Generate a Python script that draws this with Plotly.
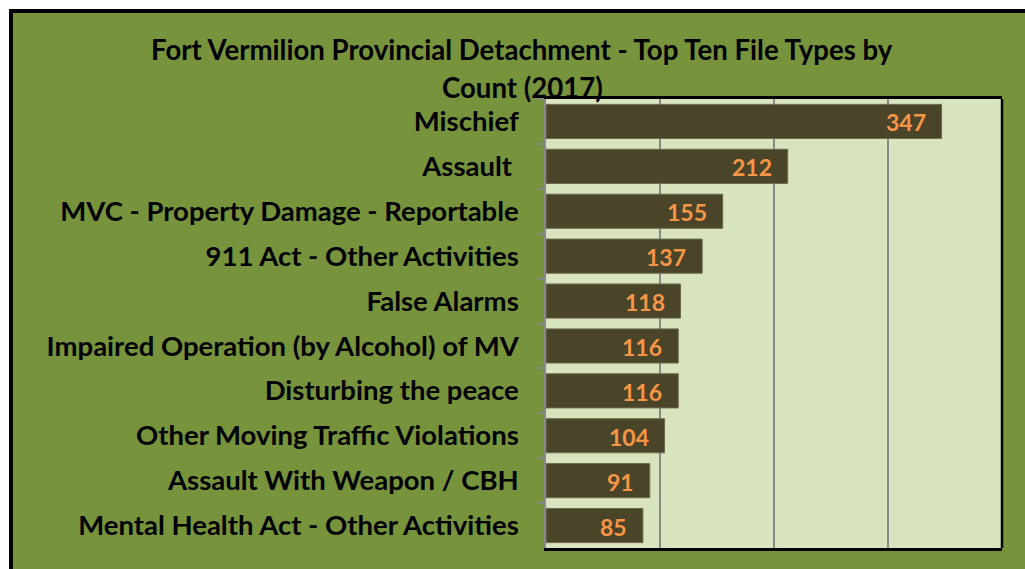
import plotly.graph_objects as go

categories = [
    "Mischief",
    "Assault\u00a0",
    "MVC - Property Damage - Reportable",
    "911 Act - Other Activities",
    "False Alarms",
    "Impaired Operation (by Alcohol) of MV",
    "Disturbing the peace",
    "Other Moving Traffic Violations",
    "Assault With Weapon / CBH",
    "Mental Health Act - Other Activities",
]
counts = [347, 212, 155, 137, 118, 116, 116, 104, 91, 85]
title_lines = ["Fort Vermilion Provincial Detachment - Top Ten File Types by", "Count (2017)"]

W, H = 1025, 569
L, R, T, B = 546, 1002, 99, 548
pw, ph = R - L, B - T

def px_x(x):
    return (x - L) / pw

def px_y(y):
    return (B - y) / ph

FONT = "Lato"

fig = go.Figure()
fig.add_trace(go.Bar(
    x=counts, y=categories, orientation="h",
    marker=dict(color="#4A4429", line=dict(color="#6E6A50", width=1)),
    width=0.76,
    hoverinfo="skip",
))

annotations = []
for c, v in zip(categories, counts):
    annotations.append(dict(
        x=v, y=c, xref="x", yref="y", text=str(v), showarrow=False,
        xanchor="right", yanchor="middle", xshift=-14, yshift=-1,
        font=dict(family=FONT, size=23, color="#F79646", weight="bold"),
    ))
title_y = [50, 87]
for line, ty in zip(title_lines, title_y):
    annotations.append(dict(
        x=px_x(522), y=px_y(ty), xref="paper", yref="paper", text=line,
        showarrow=False, xanchor="center", yanchor="middle",
        font=dict(family=FONT, size=27.6, color="black", weight="bold"),
    ))

shapes = [
    dict(type="rect", xref="paper", yref="paper",
         x0=px_x(11), x1=px_x(1080), y0=px_y(11), y1=px_y(620),
         fillcolor="#77933C", line=dict(color="black", width=4), layer="below"),
    dict(type="rect", xref="paper", yref="paper",
         x0=0, x1=1, y0=0, y1=1,
         fillcolor="#D7E4BD", line=dict(width=0), layer="below"),
    dict(type="line", xref="paper", yref="paper",
         x0=1, x1=1, y0=0, y1=1, line=dict(color="black", width=2.5)),
]

fig.update_layout(
    width=W, height=H,
    margin=dict(l=L, r=W - R, t=T, b=H - B),
    paper_bgcolor="white",
    plot_bgcolor="#D7E4BD",
    showlegend=False,
    bargap=0.24,
    annotations=annotations,
    shapes=shapes,
    xaxis=dict(
        range=[0, 400], dtick=100, showticklabels=False, ticks="",
        showgrid=True, gridcolor="#888888", gridwidth=1.5,
        showline=True, mirror=True, linecolor="black", linewidth=2.5,
        zeroline=False, fixedrange=True,
    ),
    yaxis=dict(
        autorange="reversed", type="category",
        tickson="boundaries", ticks="outside", ticklen=7, tickcolor="#888888", tickwidth=1.5,
        showline=True, linecolor="#888888", linewidth=1.5,
        showgrid=False,
        tickfont=dict(family=FONT, size=27.5, color="black", weight="bold"),
        ticklabelstandoff=20,
        fixedrange=True,
    ),
)

fig.write_html(
    "out.html",
    config={"displayModeBar": False},
    post_script="document.body.style.margin='0';document.body.style.overflow='hidden';",
)
